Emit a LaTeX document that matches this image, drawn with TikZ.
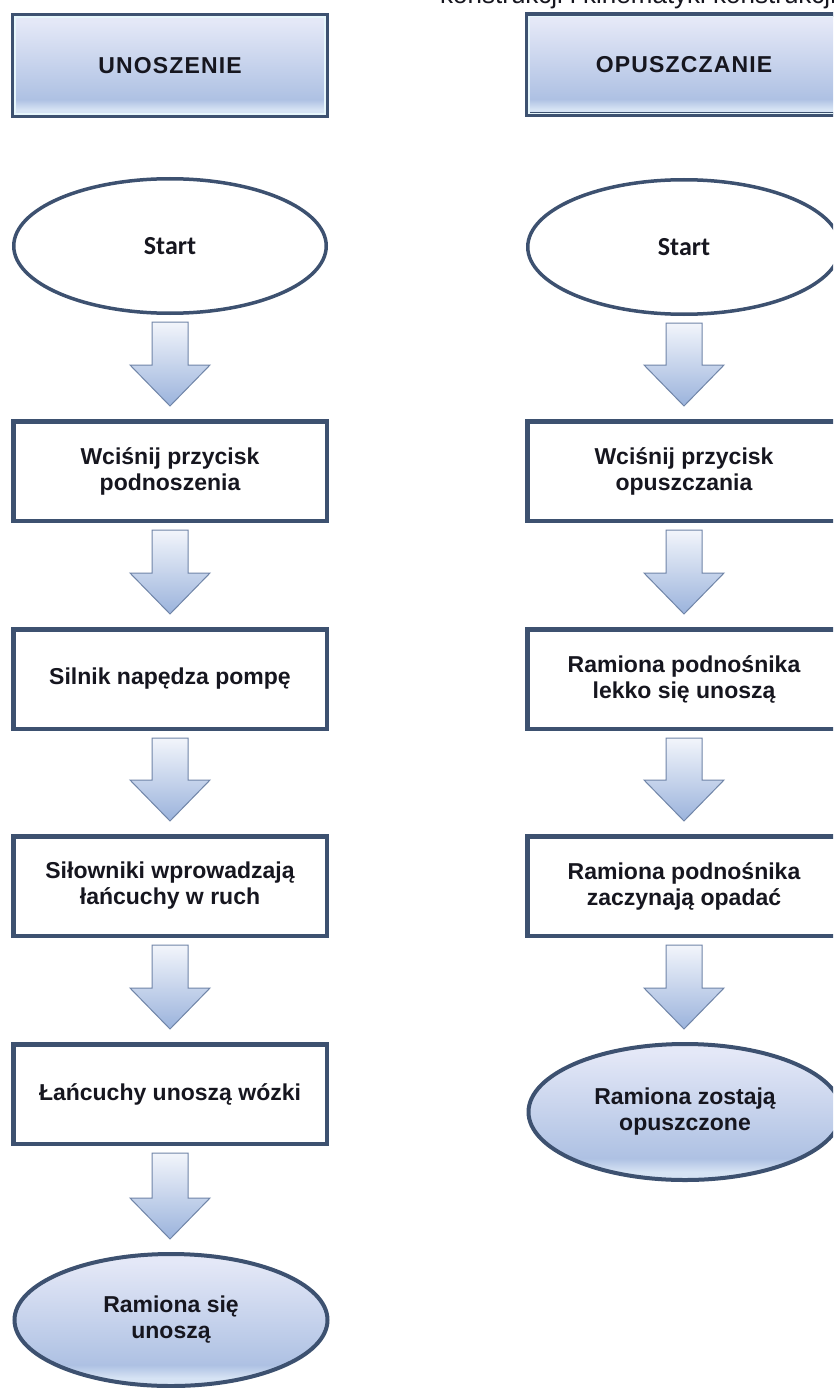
\documentclass[tikz,border=0pt]{standalone}
\usepackage{fontspec}
\setmainfont{Liberation Sans}
\newfontfamily\hdrfont[LetterSpace=5]{Liberation Sans}
\newfontfamily\startfont{Carlito}
\usetikzlibrary{shapes.geometric,calc}
\definecolor{edge}{HTML}{3D5170}
\definecolor{ink}{HTML}{16161F}
\definecolor{hdrA}{HTML}{E4E8F7}
\definecolor{hdrB}{HTML}{AEC1E3}
\definecolor{hdrC}{HTML}{D6E3F4}
\definecolor{arrA}{HTML}{F2F5FB}
\definecolor{arrB}{HTML}{9BB3DC}
\definecolor{arrEdge}{HTML}{7085A8}
\definecolor{innerline}{HTML}{E6F6FB}
\pgfdeclareverticalshading{hdrshade}{100bp}{color(0bp)=(hdrC); color(25bp)=(hdrC); color(28bp)=(hdrC); color(33bp)=(hdrB); color(72bp)=(hdrA); color(100bp)=(hdrA)}
\tikzset{
  hdrbox/.style={draw=edge, line width=5pt, shading=hdrshade, minimum width=313pt, minimum height=100pt, inner sep=0pt, text=ink, font=\hdrfont\fontsize{23}{26}\selectfont\bfseries},
  stepbox/.style={draw=edge, line width=4.5pt, fill=white, minimum width=313.5pt, minimum height=99.5pt, inner sep=0pt, align=center, text=ink, font=\fontsize{23}{26}\selectfont\bfseries},
  startell/.style={ellipse, draw=edge, line width=3.5pt, fill=white, minimum width=312.5pt, minimum height=134.5pt, inner sep=0pt, text=ink, font=\startfont\fontsize{26}{30}\selectfont\bfseries},
  endell/.style={ellipse, draw=edge, line width=4pt, shading=hdrshade, minimum width=313pt, minimum height=132pt, inner sep=0pt, align=center, text=ink, font=\fontsize{23}{26}\selectfont\bfseries},
  flowarr/.style={draw=arrEdge, line width=1pt, top color=arrA, bottom color=arrB, line join=miter},
  inner/.style={draw=innerline, line width=1.5pt}
}
\newcommand\flowarrow[2]{%
  \path[flowarr] let \p1=($(#1.south)+(0,7)$), \p2=($(#2.north)+(0,-13)$) in
    (\x1-18pt,\y1) -- (\x1+18pt,\y1) -- (\x1+18pt,\y2+41pt) -- (\x1+40pt,\y2+41pt)
    -- (\x1,\y2) -- (\x1-40pt,\y2+41pt) -- (\x1-18pt,\y2+41pt) -- cycle;}
\begin{document}
\begin{tikzpicture}[x=1pt,y=-1pt]
\useasboundingbox (0,0) rectangle (833,1388);
\clip (0,0) rectangle (833,1388);
\fill[white] (0,0) rectangle (833,1388);
% clipped text at the very top (cut off in the original as well)
\node[anchor=base west, inner sep=0pt, text=ink, font=\fontsize{26}{30}\selectfont] (toptext) at (440,4) {konstrukcji i kinematyki konstrukcji};
% headers
\node[hdrbox] (h1) at (170,65.5) {UNOSZENIE};
\node[hdrbox] (h2) at (684,65) {OPUSZCZANIE};
\draw[inner] ($(h1.north west)+(4,4)$) rectangle ($(h1.south east)+(-4,-4)$);
\draw[inner] ($(h2.north west)+(4,4)$) rectangle ($(h2.south east)+(-4,-4)$);
% left column
\node[startell] (l0) at (170,246) {Start};
\node[stepbox] (l1) at (170,471) {Wciśnij przycisk\\podnoszenia};
\node[stepbox] (l2) at (170,679) {Silnik napędza pompę};
\node[stepbox] (l3) at (170,886) {Siłowniki wprowadzają\\łańcuchy w ruch};
\node[stepbox] (l4) at (170,1094) {Łańcuchy unoszą wózki};
\node[endell] (l5) at (171,1320) {Ramiona się\\unoszą};
% right column
\node[startell] (r0) at (684,247) {Start};
\node[stepbox] (r1) at (684,471) {Wciśnij przycisk\\opuszczania};
\node[stepbox] (r2) at (684,679) {Ramiona podnośnika\\lekko się unoszą};
\node[stepbox] (r3) at (684,886) {Ramiona podnośnika\\zaczynają opadać};
\node[endell, minimum height=136pt] (r4) at (685,1112) {Ramiona zostają\\opuszczone};
% arrows
\flowarrow{l0}{l1}
\flowarrow{l1}{l2}
\flowarrow{l2}{l3}
\flowarrow{l3}{l4}
\flowarrow{l4}{l5}
\flowarrow{r0}{r1}
\flowarrow{r1}{r2}
\flowarrow{r2}{r3}
\flowarrow{r3}{r4}
\end{tikzpicture}
\end{document}
